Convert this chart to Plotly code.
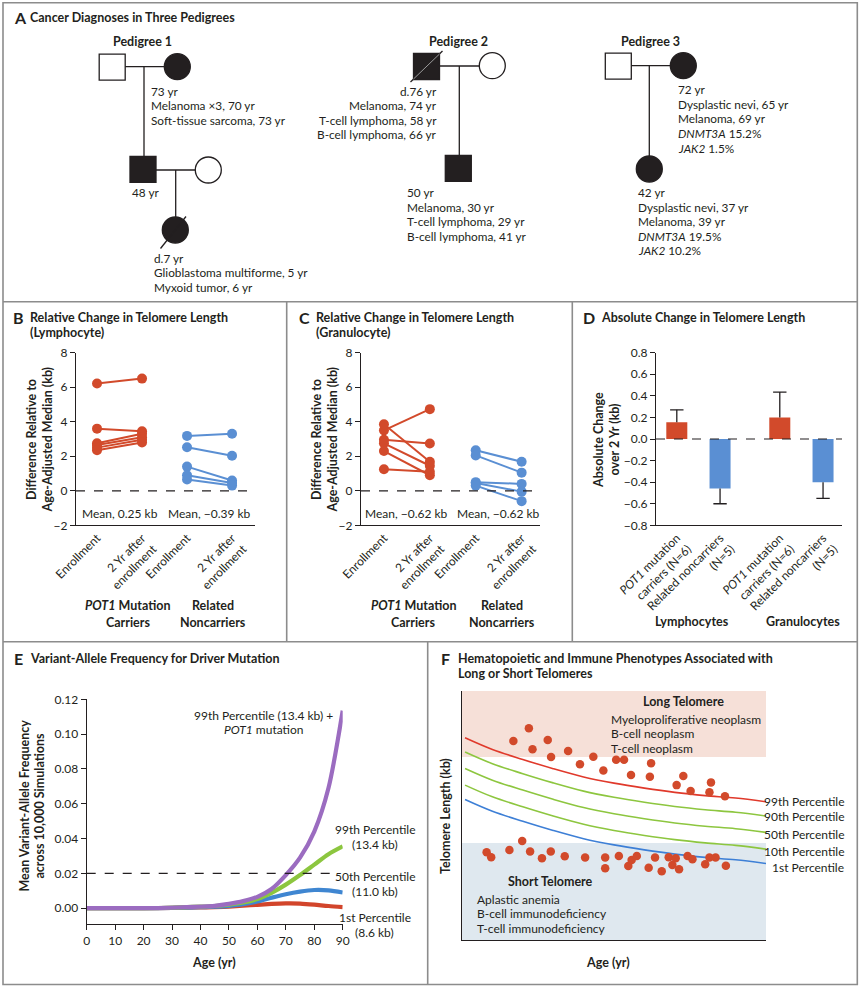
import plotly.graph_objects as go

W, H = 861, 987
FONT = "Lato"
INK = "#231f20"
RED = "#d24a2b"
BLUE = "#5a8fd3"

# ---------------- data ----------------
# B: lymphocyte telomere length vs age-adjusted median (kb)
b_carrier_enroll = [6.22, 3.6, 2.75, 2.65, 2.5, 2.35]
b_carrier_2yr = [6.5, 3.45, 3.3, 3.1, 2.95, 2.8]
b_noncarrier_enroll = [3.18, 2.52, 1.4, 0.9, 0.65]
b_noncarrier_2yr = [3.3, 2.03, 0.6, 0.45, 0.3]
b_means = ["Mean, 0.25 kb", "Mean, −0.39 kb"]

# C: granulocyte
c_carrier_enroll = [3.5, 2.95, 3.85, 2.75, 2.3, 1.25]
c_carrier_2yr = [4.73, 2.74, 1.68, 1.45, 0.9, 1.1]
c_noncarrier_enroll = [2.35, 2.05, 0.5, 0.45, 0.3]
c_noncarrier_2yr = [1.68, 1.05, 0.4, -0.05, -0.6]
c_means = ["Mean, −0.62 kb", "Mean, −0.62 kb"]

timepoints = ["Enrollment", "2 Yr after<br>enrollment"]
rel_ticks = [-2, 0, 2, 4, 6, 8]
rel_ticktext = ["−2", "0", "2", "4", "6", "8"]

# D: absolute change over 2 yr (kb)
d_groups = ["Lymphocytes", "Granulocytes"]
d_bar_labels = ["<i>POT1</i> mutation<br>carriers (N=6)", "Related noncarriers<br>(N=5)"]
d_carrier = [0.155, 0.2]
d_carrier_err = [0.115, 0.235]
d_noncarrier = [-0.46, -0.4]
d_noncarrier_err = [0.14, 0.15]
d_ticks = [-0.8, -0.6, -0.4, -0.2, 0.0, 0.2, 0.4, 0.6, 0.8]
d_ticktext = ["−0.8", "−0.6", "−0.4", "−0.2", "0.0", "0.2", "0.4", "0.6", "0.8"]

# E: mean variant-allele frequency across 10,000 simulations
e_age = [0, 10, 20, 30, 40, 45, 50, 55, 60, 65, 70, 75, 80, 85, 90]
e_p1 = [0, 0, 0, 0.0001, 0.0004, 0.0006, 0.0009, 0.0014, 0.0019, 0.0024, 0.0027, 0.0026, 0.002, 0.0012, 0.0006]
e_p50 = [0, 0, 0, 0.0001, 0.0005, 0.0008, 0.0013, 0.0022, 0.0038, 0.006, 0.008, 0.0095, 0.0104, 0.0102, 0.009]
e_p99 = [0, 0, 0, 0.0002, 0.0008, 0.0012, 0.002, 0.0032, 0.0052, 0.0088, 0.0135, 0.019, 0.025, 0.031, 0.0355]
e_p99_pot1 = [0, 0, 0, 0.0002, 0.0008, 0.0013, 0.0024, 0.004, 0.0065, 0.011, 0.019, 0.029, 0.044, 0.069, 0.1135]
e_threshold = 0.02

# F: schematic telomere length percentiles by age
f_age = [1, 10, 20, 30, 40, 50, 60, 70, 80, 90, 100]
f_p99 = [81.2, 76.5, 72.5, 68.8, 65.5, 63.0, 61.0, 59.3, 58.0, 57.0, 55.5]
f_p90 = [75.5, 70.8, 66.8, 63.1, 59.8, 57.3, 55.3, 53.6, 52.3, 51.3, 49.8]
f_p50 = [68.9, 64.2, 60.2, 56.5, 53.2, 50.7, 48.7, 47.0, 45.7, 44.7, 43.2]
f_p10 = [62.2, 57.5, 53.5, 49.8, 46.5, 44.0, 42.0, 40.3, 39.0, 38.0, 36.5]
f_p1 = [56.4, 51.7, 47.7, 44.0, 40.7, 38.2, 36.2, 34.5, 33.2, 32.2, 30.7]
f_long_age = [16.9, 22.0, 23.2, 28.2, 29.3, 34.9, 38.8, 43.2, 46.5, 50.7, 53.3, 55.6, 61.8, 62.2,
              70.6, 72.8, 75.2, 81.4, 81.9, 86.5]
f_long_len = [79.9, 85.0, 76.6, 80.3, 73.5, 75.9, 70.6, 73.6, 68.1, 72.4, 72.4, 66.3, 65.6, 71.0,
              62.2, 65.9, 59.8, 59.3, 63.3, 57.7]
f_short_age = [8.1, 9.6, 15.6, 19.8, 22.4, 26.3, 29.2, 33.8, 40.5, 47.1, 47.1, 51.6, 54.7, 55.8,
               57.5, 61.4, 63.5, 65.7, 68.0, 69.2, 70.3, 71.4, 74.2, 75.8, 80.0, 81.4, 83.4, 86.8]
f_short_len = [35.2, 33.2, 36.1, 39.8, 35.5, 32.8, 35.5, 33.6, 33.1, 33.1, 28.8, 33.7, 29.7, 32.1,
               33.7, 29.0, 33.1, 27.6, 33.2, 30.1, 32.8, 28.4, 33.7, 32.4, 30.4, 33.1, 33.1, 29.8]
f_long_top, f_long_bottom = 100, 73.5
f_short_top, f_short_bottom = 39.0, 0


# ---------------- helpers (pixel -> paper) ----------------
def X(p):
    return p / W


def Y(p):
    return 1 - p / H


annotations = []
shapes = []


def label(x, y, text, size=11.8, anchor="left", bold=False, angle=0, color=INK):
    if bold:
        text = "<b>" + text + "</b>"
    annotations.append(dict(x=X(x), y=Y(y), xref="paper", yref="paper", text=text,
                            showarrow=False, xanchor=anchor, yanchor="middle", textangle=angle,
                            font=dict(size=size, color=color, family=FONT)))


def block(x, y, lines, anchor="left", step=14.5, size=11.8, bold=False):
    for i, t in enumerate(lines):
        label(x, y + i * step, t, size=size, anchor=anchor, bold=bold)


def line(x0, y0, x1, y1, color=INK, width=1.3):
    shapes.append(dict(type="line", xref="paper", yref="paper", x0=X(x0), y0=Y(y0), x1=X(x1), y1=Y(y1),
                       line=dict(color=color, width=width)))


def square(cx, cy, filled, s=26):
    shapes.append(dict(type="rect", xref="paper", yref="paper", x0=X(cx - s / 2), x1=X(cx + s / 2),
                       y0=Y(cy + s / 2), y1=Y(cy - s / 2), fillcolor=INK if filled else "white",
                       line=dict(color=INK, width=1.3)))


def circle(cx, cy, filled, r=13):
    shapes.append(dict(type="circle", xref="paper", yref="paper", x0=X(cx - r), x1=X(cx + r),
                       y0=Y(cy + r), y1=Y(cy - r), fillcolor=INK if filled else "white",
                       line=dict(color=INK, width=1.3)))


def title(letter_x, text_x, y, letter, lines):
    label(letter_x, y, letter, size=16, bold=True)
    block(text_x, y, lines, size=12.5, bold=True, step=15.5)


fig = go.Figure()

# ---------------- panel A: pedigrees ----------------
title(12, 28, 18, "A", ["Cancer Diagnoses in Three Pedigrees"])
label(142, 42, "Pedigree 1", size=12.5, anchor="center", bold=True)
label(459, 42, "Pedigree 2", size=12.5, anchor="center", bold=True)
label(650, 42, "Pedigree 3", size=12.5, anchor="center", bold=True)

# pedigree 1
line(125, 66.7, 165, 66.7)
line(144, 66.7, 144, 156)
square(112.2, 67.2, False)
circle(177.3, 66.7, True)
line(156, 170, 196, 170)
line(175.7, 170, 175.7, 217)
square(143, 169.3, True)
circle(208.3, 170, False)
circle(175.3, 230, True)
line(160.5, 248.5, 186, 216.5)
block(148.7, 91, ["73 yr", "Melanoma ×3, 70 yr", "Soft-tissue sarcoma, 73 yr"])
label(130, 193, "48 yr")
block(152, 258, ["d.7 yr", "Glioblastoma multiforme, 5 yr", "Myxoid tumor, 6 yr"])

# pedigree 2
line(440, 66, 480, 66)
line(459.3, 66, 459.3, 155)
square(426.5, 66.5, True)
line(410.5, 82, 442.5, 51)
line(413.5, 79, 439.5, 54, color="#9a9a9a", width=1)
circle(492.3, 65.7, False)
square(458.3, 168.3, True)
block(439, 91, ["d.76 yr", "Melanoma, 74 yr", "T-cell lymphoma, 58 yr", "B-cell lymphoma, 66 yr"], anchor="right")
block(405, 193, ["50 yr", "Melanoma, 30 yr", "T-cell lymphoma, 29 yr", "B-cell lymphoma, 41 yr"])

# pedigree 3
line(631, 65.7, 671, 65.7)
line(649.3, 65.7, 649.3, 156)
square(618.3, 66.2, False)
circle(683.3, 65.7, True)
circle(649.3, 169, True)
block(676, 90, ["72 yr", "Dysplastic nevi, 65 yr", "Melanoma, 69 yr", "<i>DNMT3A</i> 15.2%", "<i>JAK2</i> 1.5%"])
block(636, 193, ["42 yr", "Dysplastic nevi, 37 yr", "Melanoma, 39 yr", "<i>DNMT3A</i> 19.5%", "<i>JAK2</i> 10.2%"])

# ---------------- panels B and C: paired dots ----------------
def paired(enroll, follow, x0, color, xa, ya):
    for a, b in zip(enroll, follow):
        fig.add_trace(go.Scatter(x=[x0, x0 + 1], y=[a, b], mode="lines+markers", xaxis=xa, yaxis=ya,
                                 line=dict(color=color, width=2), marker=dict(size=10, color=color),
                                 showlegend=False, hoverinfo="y"))


paired(b_carrier_enroll, b_carrier_2yr, 0, RED, "x", "y")
paired(b_noncarrier_enroll, b_noncarrier_2yr, 2, BLUE, "x", "y")
paired(c_carrier_enroll, c_carrier_2yr, 0, RED, "x2", "y2")
paired(c_noncarrier_enroll, c_noncarrier_2yr, 2, BLUE, "x2", "y2")

for ax in ["x", "x2"]:
    ya = "y" if ax == "x" else "y2"
    shapes.append(dict(type="line", xref=ax + " domain", yref=ya, x0=0, x1=1, y0=0, y1=0,
                       line=dict(color=INK, width=1.2, dash="dash")))
for i, t in enumerate(b_means):
    fig.add_annotation(x=0.5 + 2 * i, y=-1.3, xref="x", yref="y", text=t, showarrow=False,
                       font=dict(size=12, family=FONT, color=INK))
for i, t in enumerate(c_means):
    fig.add_annotation(x=0.5 + 2 * i, y=-1.3, xref="x2", yref="y2", text=t, showarrow=False,
                       font=dict(size=12, family=FONT, color=INK))

title(11, 28.3, 317.3, "B", ["Relative Change in Telomere Length", "(Lymphocyte)"])
title(296.5, 314.3, 317.3, "C", ["Relative Change in Telomere Length", "(Granulocyte)"])
for off in [0, 285]:
    label(31 + off, 440, "Difference Relative to", size=12.5, anchor="center", bold=True, angle=-90)
    label(46.5 + off, 440, "Age-Adjusted Median (kb)", size=12.5, anchor="center", bold=True, angle=-90)
block(127.5, 605, ["<i>POT1</i> Mutation", "Carriers"], anchor="center", size=12.5, bold=True, step=17)
block(213.3, 605, ["Related", "Noncarriers"], anchor="center", size=12.5, bold=True, step=17)
block(413, 605, ["<i>POT1</i> Mutation", "Carriers"], anchor="center", size=12.5, bold=True, step=17)
block(501.7, 605, ["Related", "Noncarriers"], anchor="center", size=12.5, bold=True, step=17)

# ---------------- panel D: bars ----------------
off = 0.21
d_x_car = [i - off for i in range(len(d_groups))]
d_x_non = [i + off for i in range(len(d_groups))]
fig.add_trace(go.Bar(x=d_x_car, y=d_carrier, width=0.204, marker=dict(color=RED, line=dict(width=0)),
                     xaxis="x3", yaxis="y3", showlegend=False))
fig.add_trace(go.Bar(x=d_x_non, y=d_noncarrier, width=0.204, marker=dict(color=BLUE, line=dict(width=0)),
                     xaxis="x3", yaxis="y3", showlegend=False))
# one-sided error bars drawn as plain lines
ex, ey = [], []
cap = 0.065
for xs, vals, errs in [(d_x_car, d_carrier, d_carrier_err), (d_x_non, d_noncarrier, d_noncarrier_err)]:
    for xv, v, e in zip(xs, vals, errs):
        tip = v + e if v >= 0 else v - e
        ex += [xv, xv, None, xv - cap, xv + cap, None]
        ey += [v, tip, None, tip, tip, None]
fig.add_trace(go.Scatter(x=ex, y=ey, mode="lines", line=dict(color=INK, width=1.3), xaxis="x3", yaxis="y3",
                         showlegend=False, hoverinfo="skip"))
shapes.append(dict(type="line", xref="x3 domain", yref="y3", x0=0, x1=1, y0=0, y1=0,
                   line=dict(color=INK, width=1.2, dash="dash")))
title(581, 599.3, 317.3, "D", ["Absolute Change in Telomere Length"])
label(598, 440, "Absolute Change", size=12.5, anchor="center", bold=True, angle=-90)
label(613.5, 440, "over 2 Yr (kb)", size=12.5, anchor="center", bold=True, angle=-90)
label(691.7, 621.7, d_groups[0], size=12.5, anchor="center", bold=True)
label(803.3, 621.7, d_groups[1], size=12.5, anchor="center", bold=True)

# ---------------- panel E: VAF curves ----------------
for ys, col in [(e_p1, "#d2452b"), (e_p50, "#3f86d1"), (e_p99, "#8cc63f"), (e_p99_pot1, "#9b6cc0")]:
    fig.add_trace(go.Scatter(x=e_age, y=ys, mode="lines", line=dict(color=col, width=4.2, shape="spline",
                                                                   smoothing=0.8),
                             xaxis="x4", yaxis="y4", showlegend=False))
shapes.append(dict(type="line", xref="x4", yref="y4", x0=0, x1=85.5, y0=e_threshold, y1=e_threshold,
                   line=dict(color=INK, width=1.2, dash="dash")))
title(12, 28, 658, "E", ["Variant-Allele Frequency for Driver Mutation"])
label(23.5, 806, "Mean Variant-Allele Frequency", size=12.5, anchor="center", bold=True, angle=-90)
label(38.5, 806, "across 10,000 Simulations", size=12.5, anchor="center", bold=True, angle=-90)
label(214, 962, "Age (yr)", size=12.5, anchor="center", bold=True)
block(263, 715, ["99th Percentile (13.4 kb) +", "<i>POT1</i> mutation"], anchor="center", size=12, step=14.5)
block(374.5, 829, ["99th Percentile", "(13.4 kb)"], anchor="center", size=12, step=15)
block(374.5, 876, ["50th Percentile", "(11.0 kb)"], anchor="center", size=12, step=15)
block(374.5, 917, ["1st Percentile", "(8.6 kb)"], anchor="center", size=12, step=15)

# ---------------- panel F: schematic ----------------
shapes.append(dict(type="rect", xref="x5", yref="y5", x0=0, x1=100, y0=f_long_bottom, y1=f_long_top,
                   fillcolor="#f6e0d8", line=dict(width=0), layer="below"))
shapes.append(dict(type="rect", xref="x5", yref="y5", x0=0, x1=100, y0=f_short_bottom, y1=f_short_top,
                   fillcolor="#dfe8ef", line=dict(width=0), layer="below"))
for ys, col in [(f_p1, "#3d7fd6"), (f_p10, "#8dc63f"), (f_p50, "#8dc63f"), (f_p90, "#8dc63f"), (f_p99, "#e0392b")]:
    fig.add_trace(go.Scatter(x=f_age, y=ys, mode="lines", line=dict(color=col, width=1.6, shape="spline"),
                             xaxis="x5", yaxis="y5", showlegend=False))
fig.add_trace(go.Scatter(x=f_long_age + f_short_age, y=f_long_len + f_short_len, mode="markers",
                         marker=dict(color="#d24a2b", size=8.5), xaxis="x5", yaxis="y5", showlegend=False))
title(439, 456, 658, "F", ["Hematopoietic and Immune Phenotypes Associated with", "Long or Short Telomeres"])
label(445, 816, "Telomere Length (kb)", size=12.5, anchor="center", bold=True, angle=-90)
label(608, 962, "Age (yr)", size=12.5, anchor="center", bold=True)
label(683, 701, "Long Telomere", size=12.5, anchor="center", bold=True)
block(609, 719, ["Myeloproliferative neoplasm", "B-cell neoplasm", "T-cell neoplasm"], size=12)
label(550, 881, "Short Telomere", size=12.5, anchor="center", bold=True)
block(475, 899, ["Aplastic anemia", "B-cell immunodeficiency", "T-cell immunodeficiency"], size=12)
for i, t in enumerate(["99th Percentile", "90th Percentile", "50th Percentile", "10th Percentile", "1st Percentile"]):
    label(846, [801, 816, 834, 851, 867][i], t, size=12, anchor="right")

# ---------------- panel borders ----------------
BORDER = dict(color="#8c8c8c", width=1.6)
shapes.append(dict(type="rect", xref="paper", yref="paper", x0=X(3), x1=X(857.3), y0=Y(984.5), y1=Y(2.7),
                   line=BORDER))
for yv in [301.7, 641.7]:
    shapes.append(dict(type="line", xref="paper", yref="paper", x0=X(3), x1=X(857.3), y0=Y(yv), y1=Y(yv),
                       line=BORDER))
for xv in [286.7, 572.3]:
    shapes.append(dict(type="line", xref="paper", yref="paper", x0=X(xv), x1=X(xv), y0=Y(301.7), y1=Y(641.7),
                       line=BORDER))
shapes.append(dict(type="line", xref="paper", yref="paper", x0=X(427.7), x1=X(427.7), y0=Y(641.7), y1=Y(984.5),
                   line=BORDER))

# ---------------- axes ----------------
base = dict(showgrid=False, zeroline=False, showline=True, linecolor=INK, linewidth=1.2, automargin=False,
            tickfont=dict(size=12, family=FONT, color=INK), tickcolor=INK, tickwidth=1.2)
ytick = dict(base, ticks="outside", ticklen=5)
xcat = dict(base, ticks="", tickangle=-45)

fig.update_layout(
    width=W, height=H, margin=dict(l=0, r=0, t=0, b=0, autoexpand=False),
    paper_bgcolor="white", plot_bgcolor="white", showlegend=False,
    font=dict(family=FONT, color=INK),
    xaxis=dict(xcat, domain=[X(76), X(255)], range=[-0.467, 3.51], anchor="y",
               tickvals=[0, 1, 2, 3], ticktext=timepoints * 2),
    yaxis=dict(ytick, domain=[Y(525.3), Y(352.7)], range=[-2, 8], anchor="x",
               tickvals=rel_ticks, ticktext=rel_ticktext),
    xaxis2=dict(xcat, domain=[X(361), X(540)], range=[-0.5, 3.4], anchor="y2",
                tickvals=[0, 1, 2, 3], ticktext=timepoints * 2),
    yaxis2=dict(ytick, domain=[Y(525.3), Y(352.7)], range=[-2, 8], anchor="x2",
                tickvals=rel_ticks, ticktext=rel_ticktext),
    xaxis3=dict(xcat, domain=[X(656), X(842)], range=[-0.412, 1.394], anchor="y3",
                tickvals=d_x_car + d_x_non, ticktext=[d_bar_labels[0]] * 2 + [d_bar_labels[1]] * 2),
    yaxis3=dict(ytick, domain=[Y(525.3), Y(352.7)], range=[-0.8, 0.8], anchor="x3",
                tickvals=d_ticks, ticktext=d_ticktext),
    xaxis4=dict(base, ticks="outside", ticklen=5, domain=[X(86.7), X(342.7)], range=[0, 90], anchor="y4",
                tickvals=list(range(0, 91, 10))),
    yaxis4=dict(ytick, domain=[Y(924.3), Y(699.3)], range=[-0.0093, 0.12], anchor="x4",
                tickvals=[0, 0.02, 0.04, 0.06, 0.08, 0.10, 0.12], tickformat=".2f"),
    xaxis5=dict(base, showticklabels=False, ticks="", domain=[X(462), X(766)], range=[0, 100], anchor="y5"),
    yaxis5=dict(base, showticklabels=False, ticks="", domain=[Y(940), Y(691)], range=[0, 100], anchor="x5"),
    shapes=shapes,
)
for a in annotations:
    fig.add_annotation(a)

# drop the browser's default 8px body margin so the figure sits at the page origin
fig.write_html("out.html", config={"displayModeBar": False},
               post_script="document.body.style.margin='0';")
